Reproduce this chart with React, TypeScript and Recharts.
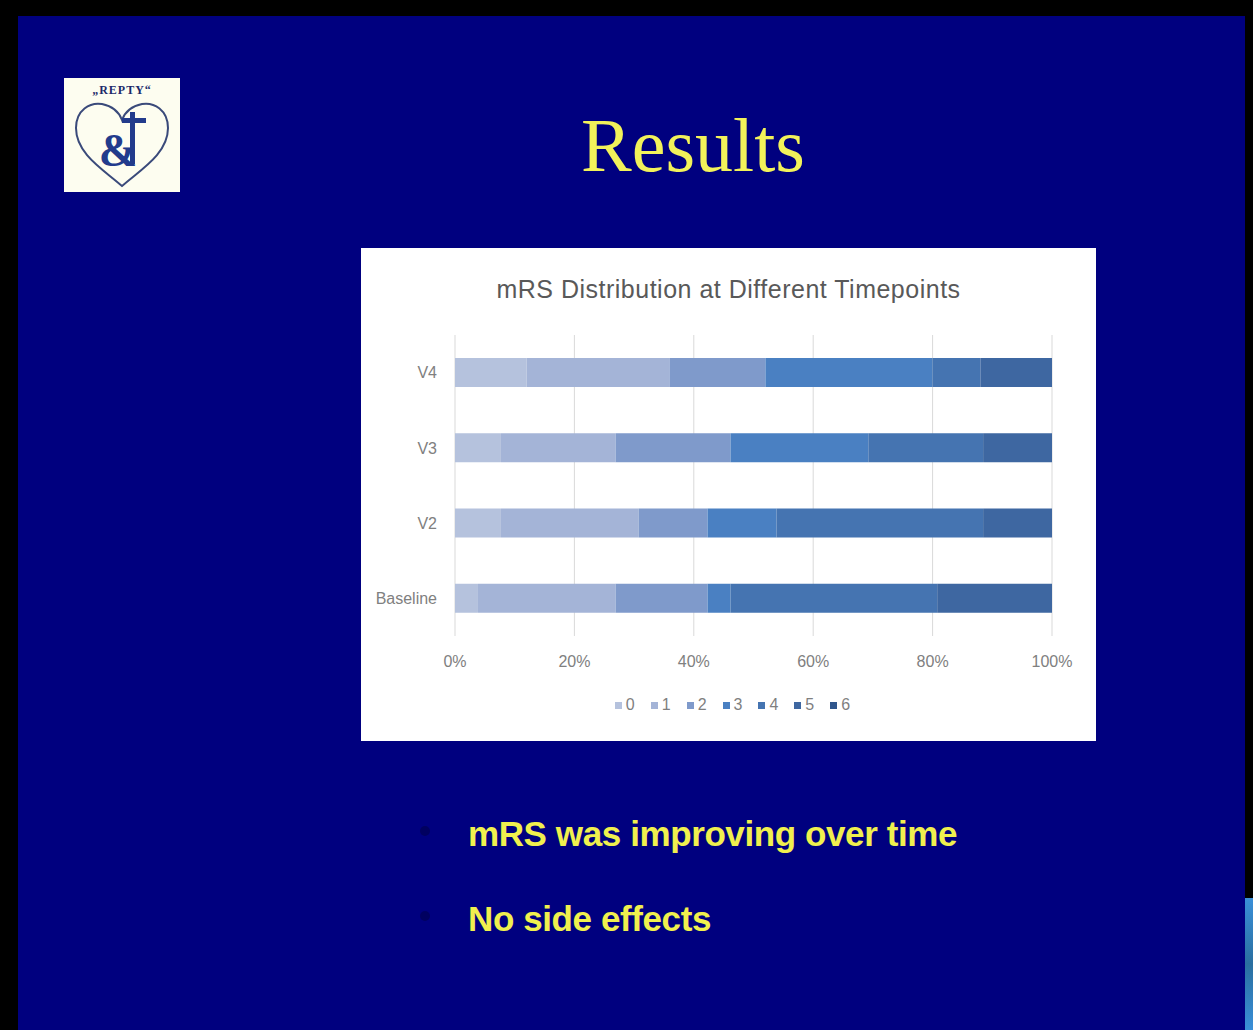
import { BarChart, Bar, XAxis, YAxis, CartesianGrid, Legend } from "recharts";

// patients per mRS grade at each visit (Baseline, V2, V3, V4)
const timepoints = ["Baseline", "V2", "V3", "V4"];
const mrs0 = [1, 2, 2, 3];
const mrs1 = [6, 6, 5, 6];
const mrs2 = [4, 3, 5, 4];
const mrs3 = [1, 3, 6, 7];
const mrs4 = [9, 9, 5, 2];
const mrs5 = [5, 3, 3, 3];
const mrs6 = [0, 0, 0, 0];

const grades = ["0", "1", "2", "3", "4", "5", "6"];
const gradeColors = ["#b5c2dd", "#a4b4d7", "#7f9acb", "#4a80c2", "#4574b1", "#3e67a1", "#2f568c"];
const xTicks = [0, 0.2, 0.4, 0.6, 0.8, 1];

const series = [mrs0, mrs1, mrs2, mrs3, mrs4, mrs5, mrs6];
const data = timepoints.map((name, i) => {
  const row: Record<string, string | number> = { name };
  grades.forEach((g, j) => {
    row[g] = series[j][i];
  });
  return row;
});

const chartFont = "'Liberation Sans', Arial, sans-serif";

const LegendRow = (props: any) => {
  const items = props.payload || [];
  return (
    <div style={{ display: "flex", justifyContent: "center", gap: 16, fontFamily: chartFont, fontSize: 16, color: "#7f7f7f" }}>
      {items.map((it: any) => (
        <span key={it.value} style={{ display: "flex", alignItems: "center" }}>
          <span style={{ width: 7, height: 7, background: it.color, marginRight: 4, display: "inline-block" }} />
          {it.value}
        </span>
      ))}
    </div>
  );
};

const Logo = () => (
  <svg width={116} height={114} style={{ position: "absolute", left: 64, top: 78 }}>
    <rect x={0} y={0} width={116} height={114} fill="#fdfdf0" />
    <text x={58} y={16} textAnchor="middle" fontFamily="'Liberation Serif', serif" fontWeight="bold" fontSize={12} fill="#1c2a6a" letterSpacing={1}>
      „REPTY“
    </text>
    <path
      d="M58 108 C 40 92, 12 76, 12 50 C 12 32, 26 24, 38 26 C 48 28, 55 34, 58 42 C 61 34, 68 28, 78 26 C 90 24, 104 32, 104 50 C 104 76, 76 92, 58 108 Z"
      fill="none"
      stroke="#3a4a7a"
      strokeWidth={2}
    />
    <text x={54} y={88} textAnchor="middle" fontFamily="'Liberation Serif', serif" fontWeight="bold" fontSize={46} fill="#223b8c">
      &amp;
    </text>
    <rect x={58} y={40} width={24} height={5} fill="#223b8c" />
    <rect x={66} y={34} width={5} height={52} fill="#223b8c" />
  </svg>
);

const bulletText = {
  position: "absolute" as const,
  left: 468,
  fontFamily: "'Liberation Sans', Arial, sans-serif",
  fontWeight: "bold" as const,
  fontSize: 35,
  lineHeight: "44px",
  letterSpacing: -0.4,
  color: "#f0f04e",
  whiteSpace: "nowrap" as const,
};

export default function App() {
  return (
    <div style={{ position: "absolute", left: 0, top: 0, width: 1253, height: 1030, background: "#000", overflow: "hidden" }}>
      <div style={{ position: "absolute", left: 18, top: 16, width: 1227, height: 1014, background: "#00007f" }} />
      <div style={{ position: "absolute", left: 1245, top: 898, width: 8, height: 132, background: "linear-gradient(#3a8fd8, #2a6fa0, #3a8fd8)" }} />
      <Logo />
      <div
        style={{
          position: "absolute",
          left: 393,
          top: 100,
          width: 600,
          textAlign: "center",
          fontFamily: "'Liberation Serif', 'Times New Roman', serif",
          fontSize: 76,
          lineHeight: "90px",
          color: "#f2f25a",
        }}
      >
        Results
      </div>

      <div style={{ position: "absolute", left: 361, top: 248, width: 735, height: 493, background: "#fff" }}>
        <div
          style={{
            position: "absolute",
            left: 0,
            top: 27,
            width: 735,
            textAlign: "center",
            fontFamily: chartFont,
            fontSize: 25,
            letterSpacing: 0.5,
            color: "#595959",
          }}
        >
          mRS Distribution at Different Timepoints
        </div>
        <BarChart
          width={735}
          height={493}
          data={data}
          layout="vertical"
          stackOffset="expand"
          barSize={29}
          margin={{ top: 87, right: 44, left: 0, bottom: 43 }}
        >
          <CartesianGrid horizontal={false} stroke="#d9d9d9" />
          <XAxis
            type="number"
            domain={[0, 1]}
            ticks={xTicks}
            tickFormatter={(v: number) => `${Math.round(v * 100)}%`}
            axisLine={false}
            tickLine={false}
            tickMargin={14}
            height={44}
            tick={{ fill: "#808080", fontSize: 16, fontFamily: chartFont }}
          />
          <YAxis
            type="category"
            dataKey="name"
            reversed
            width={94}
            axisLine={false}
            tickLine={false}
            tickMargin={12}
            tick={{ fill: "#808080", fontSize: 16, fontFamily: chartFont }}
          />
          <Legend
            verticalAlign="bottom"
            content={<LegendRow />}
            wrapperStyle={{ bottom: 27, left: 0, width: 735, paddingLeft: 8, boxSizing: "border-box" }}
          />
          {grades.map((g, i) => (
            <Bar key={g} dataKey={g} stackId="mrs" fill={gradeColors[i]} isAnimationActive={false} />
          ))}
        </BarChart>
      </div>

      <div style={{ position: "absolute", left: 420, top: 826, width: 10, height: 10, borderRadius: 5, background: "#000060" }} />
      <div style={{ position: "absolute", left: 420, top: 911, width: 10, height: 10, borderRadius: 5, background: "#000060" }} />
      <div style={{ ...bulletText, top: 812 }}>mRS was improving over time</div>
      <div style={{ ...bulletText, top: 897 }}>No side effects</div>
    </div>
  );
}
